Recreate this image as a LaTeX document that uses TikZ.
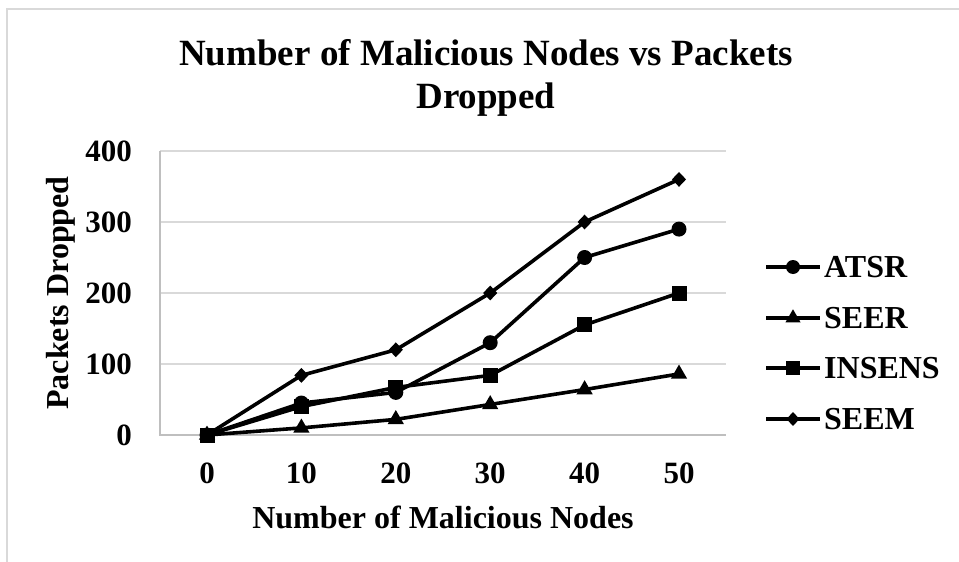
\documentclass[tikz,border=0pt]{standalone}
\usepackage{fontspec}
\setmainfont{Liberation Serif}
\usetikzlibrary{shapes.geometric}
\definecolor{gridgray}{HTML}{D9D9D9}
\definecolor{axisgray}{HTML}{BFBFBF}

\begin{document}
\begin{tikzpicture}[x=1pt, y=-1pt,
    series/.style={line width=3.6pt, line join=round},
    mk-atsr/.style={circle, fill=black, inner sep=0pt, minimum size=#1},
    mk-seer/.style={regular polygon, regular polygon sides=3, fill=black,
                    inner sep=0pt, minimum size=1.25*#1},
    mk-insens/.style={rectangle, fill=black, inner sep=0pt, minimum size=#1},
    mk-seem/.style={diamond, fill=black, inner sep=0pt,
                    minimum width=0.95*#1, minimum height=#1},
    ticklbl/.style={font=\fontsize{31}{36}\selectfont\bfseries, inner sep=0pt},
    axlbl/.style={font=\fontsize{32}{38}\selectfont\bfseries, inner sep=0pt}]

  \useasboundingbox (0,0) rectangle (959,562);

  %% Chart frame
  \draw[gridgray, line width=1.2pt] (7,562) -- (7,9) -- (959,9);

  %% Title
  \node[font=\fontsize{37}{44}\selectfont\bfseries, anchor=base, inner sep=0pt]
    (title) at (486,65) {Number of Malicious Nodes vs Packets};
  \node[font=\fontsize{37}{44}\selectfont\bfseries, anchor=base, inner sep=0pt]
    (title-b) at (486,108) {Dropped};

  %% Grid and axes
  \foreach \v in {100,200,300,400}
    \draw[gridgray, line width=1.3pt] (160,{435-0.71*\v}) -- (726,{435-0.71*\v});
  \draw[axisgray, line width=1.3pt] (160,151) -- (160,435) -- (726,435);

  %% Tick labels
  \foreach \v in {0,100,200,300,400}
    \node[ticklbl, anchor=east] (ytick-\v) at (132,{435-0.71*\v}) {\v};
  \foreach \n [count=\i from 0] in {0,10,20,30,40,50}
    \node[ticklbl, anchor=base] (xtick-\n) at ({207+94.4*\i},483) {\n};

  %% Axis titles
  \node[axlbl, rotate=90, anchor=base] (ylab) at (68,293) {Packets Dropped};
  \node[axlbl, anchor=base] (xlab) at (443,528) {Number of Malicious Nodes};

  %% Series
  \begin{scope}[shift={(207pt,-435pt)}, x=94.4pt, y=0.71pt]
    \foreach \s/\vals in {atsr/{0,45,60,130,250,290},
                          seer/{0,10,22,43,64,86},
                          insens/{0,40,67,84,155,200},
                          seem/{0,84,120,200,300,360}}
      \foreach \v [count=\i from 0] in \vals
        \coordinate (\s-\i) at (\i,\v);
  \end{scope}
  \foreach \s in {seer,insens,atsr,seem} {
    \draw[series] (\s-0) -- (\s-1) -- (\s-2) -- (\s-3) -- (\s-4) -- (\s-5);
    \foreach \i in {0,...,5}
      \node[mk-\s=15pt] (mk-\s-\i) at (\s-\i) {};
  }

  %% Legend
  \foreach \s/\lbl/\yy in {atsr/ATSR/267, seer/SEER/318,
                           insens/INSENS/368, seem/SEEM/419} {
    \coordinate (leg-\s-a) at (766,\yy);
    \coordinate (leg-\s-b) at (820,\yy);
    \draw[series] (leg-\s-a) -- (leg-\s-b);
    \node[mk-\s=14pt] (leg-\s-mk) at (793,\yy) {};
    \node[axlbl, anchor=west] (leg-\s) at (824,\yy) {\lbl};
  }
\end{tikzpicture}
\end{document}
